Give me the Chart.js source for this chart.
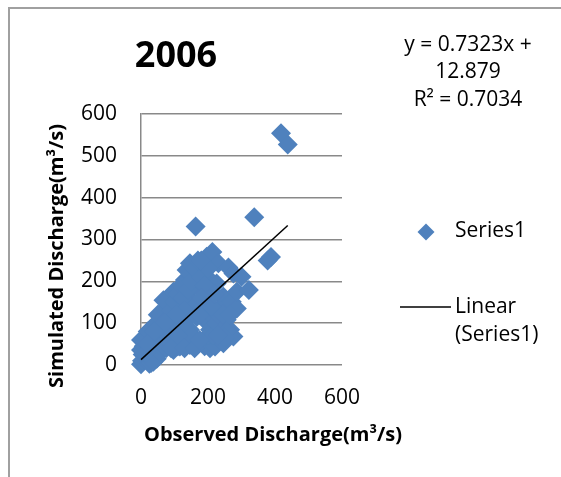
<!DOCTYPE html>
<html>
<head>
<meta charset="utf-8">
<script src="https://cdn.jsdelivr.net/npm/chart.js@4"></script>
<style>
  html, body { margin: 0; padding: 0; background: #fff; }
  #wrap { width: 561px; height: 477px; }
</style>
</head>
<body>
<div id="wrap"><canvas id="myChart" width="561" height="477"></canvas></div>
<script>
'use strict';

// Data

let obsX = [0, 3, 5, 0, 8, 0, 12, 17, 25, 27, 30, 40, 47, 37, 47, 55, 57, 60, 67, 67, 75, 27, 77, 67, 85, 87, 97, 97, 97, 105,
  107, 110, 116, 116, 120, 126, 131, 131, 136, 140, 146, 146, 146, 150, 156, 160, 163, 166, 166, 166, 176, 181, 185, 190, 196, 196, 196, 200,
  206, 206, 206, 210, 213, 216, 221, 226, 231, 236, 240, 246, 246, 256, 256, 261, 266, 271, 276, 276, 286, 286, 300, 322, 338, 378, 388, 418, 438,
  20, 35, 45, 50, 60, 80, 90, 100, 110, 120, 125, 140, 150, 160, 170, 180, 190, 200, 180, 120, 135, 150, 175, 200, 215, 225, 230, 245,
  255, 265, 210, 220, 180, 130, 105, 70, 40, 15, 20, 80, 110, 90, 130, 160, 175, 250, 230];
let simY = [2, 10, 25, 36, 45, 60, 55, 20, 3, 44, 5, 30, 15, 8, 68, 32, 100, 45, 38, 52, 40, 84, 139, 155, 60, 76, 36, 108, 175, 50,
  92, 45, 44, 139, 75, 115, 60, 203, 227, 160, 48, 84, 243, 120, 147, 190, 331, 60, 115, 211, 227, 179, 140, 45, 52, 131, 259, 100,
  40, 84, 163, 200, 270, 115, 44, 195, 243, 92, 140, 52, 163, 108, 143, 233, 84, 151, 68, 219, 135, 175, 211, 179, 353, 250, 258, 554, 527,
  80, 60, 100, 120, 85, 110, 130, 150, 170, 190, 160, 180, 200, 230, 250, 210, 190, 230, 250, 100, 90, 70, 120, 70, 70, 100, 120, 120,
  80, 120, 140, 170, 160, 130, 120, 100, 80, 30, 50, 60, 70, 40, 40, 40, 60, 65, 70];

let xTicks = [0, 200, 400, 600];
let yTicks = [0, 100, 200, 300, 400, 500, 600];

let slope = 0.7323;
let intercept = 12.879;
let rSquared = 0.7034;

let chartTitle = '2006';
let xTitle = 'Observed Discharge(m\u00b3/s)';
let yTitle = 'Simulated Discharge(m\u00b3/s)';
let seriesName = 'Series1';

let blue = '#4F81BD';
let gridGray = '#898989';
let fontFam = "'Open Sans', 'DejaVu Sans', sans-serif";

// build points

let points = [];
for (let i = 0; i < obsX.length; i++) {
  points.push({ x: obsX[i], y: simY[i] });
}

let minX = Math.min(...obsX);
let maxX = Math.max(...obsX);
let trend = [
  { x: minX, y: slope * minX + intercept },
  { x: maxX, y: slope * maxX + intercept }
];

// extra text: frame, title, equation, axis titles, legend
const decorPlugin = {
  id: 'decor',
  afterDraw(chart) {
    const ctx = chart.ctx;
    ctx.save();

    // outer frame (left and top)
    ctx.strokeStyle = '#a0a0a0';
    ctx.lineWidth = 2;
    ctx.beginPath();
    ctx.moveTo(9, chart.height);
    ctx.lineTo(9, 8);
    ctx.lineTo(chart.width, 8);
    ctx.stroke();

    ctx.fillStyle = '#000';
    ctx.textBaseline = 'middle';

    // title
    ctx.textAlign = 'center';
    ctx.font = 'bold 36px ' + fontFam;
    ctx.fillText(chartTitle, 176, 57);

    // trendline equation
    ctx.font = '21px ' + fontFam;
    ctx.fillText('y = ' + slope + 'x +', 468, 45);
    ctx.fillText(String(intercept), 468, 72);
    ctx.fillText('R\u00b2 = ' + rSquared, 468, 100);

    // axis titles
    ctx.font = 'bold 20px ' + fontFam;
    ctx.fillText(xTitle, 273, 435);
    ctx.save();
    ctx.translate(57, 256);
    ctx.rotate(-Math.PI / 2);
    ctx.fillText(yTitle, 0, 0);
    ctx.restore();

    // legend
    ctx.fillStyle = blue;
    ctx.beginPath();
    ctx.moveTo(426 - 8.5, 232);
    ctx.lineTo(426, 232 - 8.5);
    ctx.lineTo(426 + 8.5, 232);
    ctx.lineTo(426, 232 + 8.5);
    ctx.closePath();
    ctx.fill();

    ctx.strokeStyle = '#000';
    ctx.lineWidth = 1.5;
    ctx.beginPath();
    ctx.moveTo(400, 307);
    ctx.lineTo(451, 307);
    ctx.stroke();

    ctx.fillStyle = '#000';
    ctx.textAlign = 'left';
    ctx.font = '21px ' + fontFam;
    ctx.fillText(seriesName, 455, 231);
    ctx.fillText('Linear', 455, 307);
    ctx.fillText('(' + seriesName + ')', 455, 335);

    ctx.restore();
  }
};

let ctx = document.getElementById('myChart').getContext('2d');
const myChart = new Chart(ctx, {
  type: 'scatter',
  data: {
    datasets: [{
      label: seriesName,
      data: points,
      pointStyle: 'rectRot',
      pointRadius: 10,
      pointHoverRadius: 10,
      backgroundColor: blue,
      borderColor: blue,
      borderWidth: 0,
      clip: false,
      order: 2
    },
    {
      label: 'Linear (' + seriesName + ')',
      data: trend,
      showLine: true,
      borderColor: '#000',
      borderWidth: 1.5,
      pointRadius: 0,
      clip: false,
      order: 1
    }]
  },
  options: {
    responsive: false,
    animation: false,
    devicePixelRatio: 1,
    layout: {
      padding: { left: 0, top: 114, right: 219, bottom: 0 }
    },
    plugins: {
      legend: { display: false },
      tooltip: { enabled: false },
      title: { display: false }
    },
    scales: {
      x: {
        type: 'linear',
        min: 0,
        max: 600,
        afterBuildTicks: function (scale) {
          scale.ticks = xTicks.map(v => ({ value: v }));
        },
        afterFit: function (scale) {
          scale.height = 112;
        },
        grid: { display: false, drawTicks: false },
        border: { display: false },
        ticks: {
          padding: 20,
          color: '#000',
          font: { family: fontFam, size: 21 },
          maxRotation: 0
        }
      },
      y: {
        type: 'linear',
        min: 0,
        max: 600,
        afterBuildTicks: function (scale) {
          scale.ticks = yTicks.map(v => ({ value: v }));
        },
        afterFit: function (scale) {
          scale.width = 141;
        },
        grid: { color: gridGray, lineWidth: 1.5, drawTicks: false },
        border: { display: true, color: gridGray, width: 1.5 },
        ticks: {
          padding: 24,
          color: '#000',
          font: { family: fontFam, size: 21 }
        }
      }
    }
  },
  plugins: [decorPlugin]
});
</script>
</body>
</html>
